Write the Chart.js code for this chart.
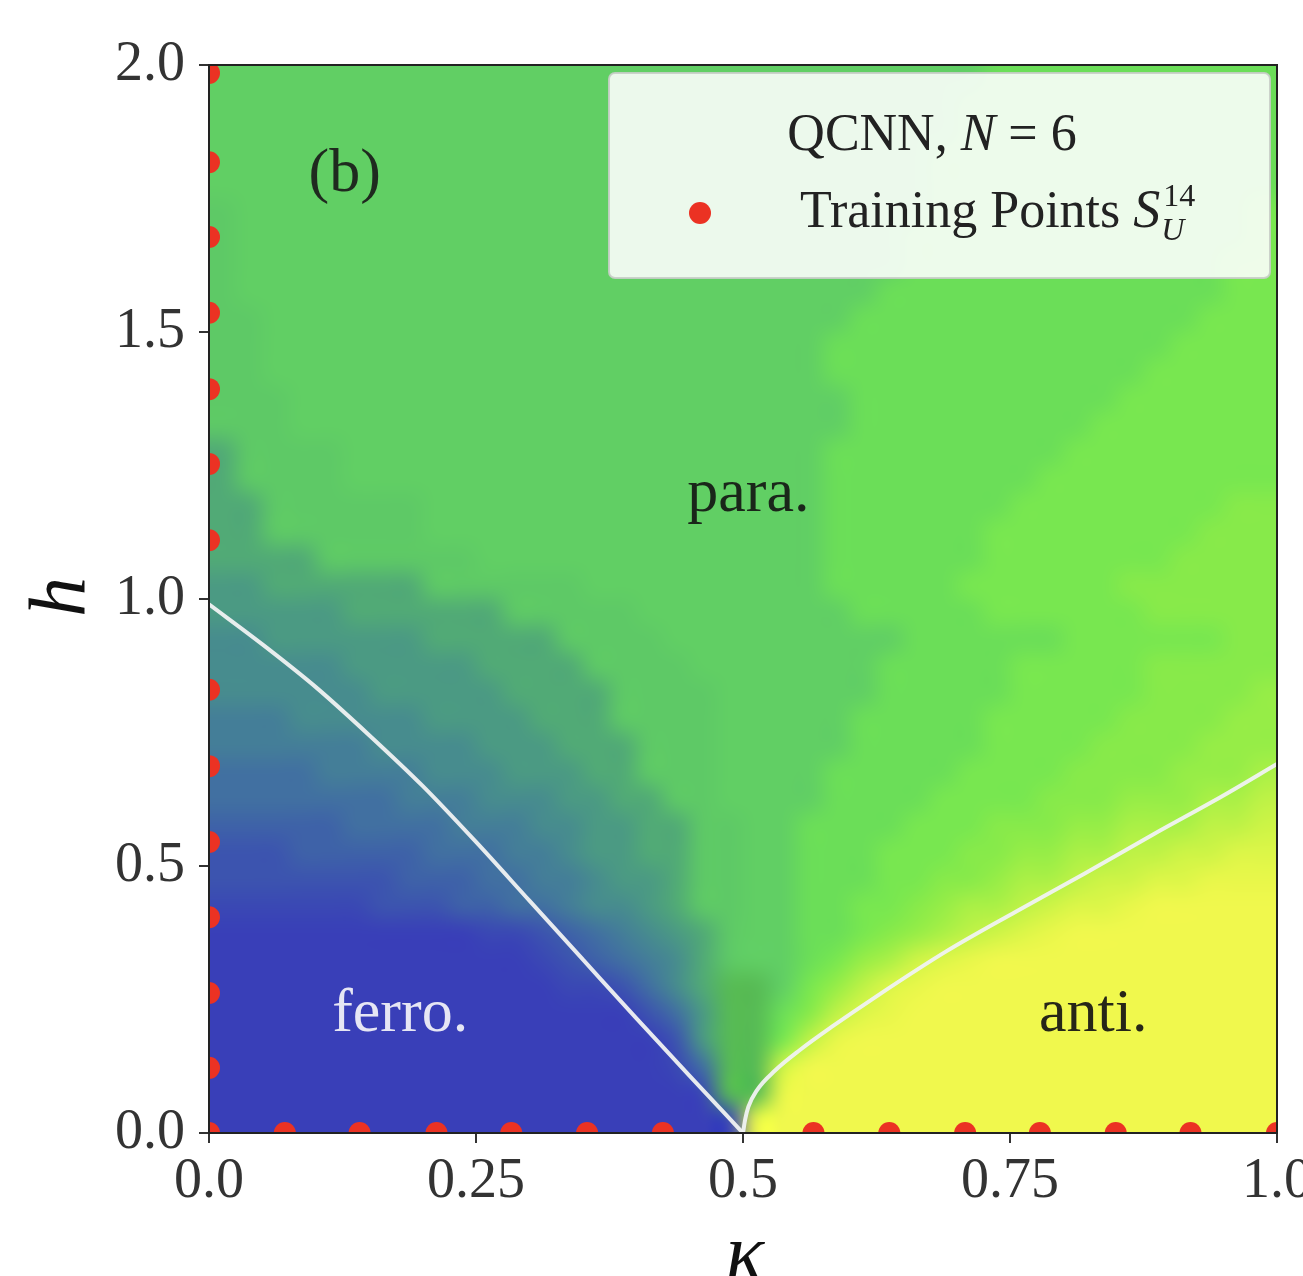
<!DOCTYPE html>
<html>
<head>
<meta charset="utf-8">
<script src="https://cdn.jsdelivr.net/npm/chart.js@4.4.1/dist/chart.umd.min.js"></script>
<style>
  html, body { margin: 0; padding: 0; background: #fff; }
</style>
</head>
<body>
<canvas id="phaseChart" width="1303" height="1276"></canvas>
<script>
// phase map, one string per h row (top row first),
// one char per kappa column: 0..9,a..k = level 0..20
// (0 ferro blue, a para green, k anti yellow), m = dark mixed green near the critical point
const phaseRows = [
  'aaaaaaaaaaaaaaaaaaaaaaaaaaaaabbbbbbbbbbb',
  'aaaaaaaaaaaaaaaaaaaaaaaaaaaabbbbbbbbbbbb',
  'aaaaaaaaaaaaaaaaaaaaaaaaaaaabbbbbbbbbbbb',
  'aaaaaaaaaaaaaaaaaaaaaaaaaaabbbbbbbbbbbbb',
  'aaaaaaaaaaaaaaaaaaaaaaaaaaabbbbbbbbbbbbb',
  '9aaaaaaaaaaaaaaaaaaaaaaaaaabbbbbbbbbbbbc',
  '9aaaaaaaaaaaaaaaaaaaaaaaaabbbbbbbbbbbbbc',
  '9aaaaaaaaaaaaaaaaaaaaaaaaabbbbbbbbbbbbcc',
  '9aaaaaaaaaaaaaaaaaaaaaaaabbbbbbbbbbbbbcc',
  '99aaaaaaaaaaaaaaaaaaaaaabbbbbbbbbbbbbccc',
  '99aaaaaaaaaaaaaaaaaaaaabbbbbbbbbbbbbcccc',
  '99aaaaaaaaaaaaaaaaaaaaabbbbbbbbbbbbccccc',
  '999aaaaaaaaaaaaaaaaaaaaabbbbbbbbbbcccccc',
  '999aaaaaaaaaaaaaaaaaaaaabbbbbbbbbccccccc',
  '89999aaaaaaaaaaaaaaaaaabbbbbbbbbcccccccc',
  '89999aaaaaaaaaaaaaaaaaabbbbbbbbccccccccc',
  '88999999aaaaaaaaaaaaaaabbbbbbbccccccccdd',
  '88999999aaaaaaaaaaaaaaabbbbbbccccccccddd',
  '8888999999aaaaaaaaaaaaabbbbbbcccccccdddd',
  '77888888999999aaaaaaaaabbbbbccccccdddddd',
  '7777788888899999aaaaaaaabbbbbccccccddddd',
  '66777777888889999aaaaaaaaabbbbbbccccccdd',
  '666667777788889999aaaaaaabbbbbcccccddddd',
  '6666667777788889999aaaaaabbbbbcccccdddde',
  '5556666677778889999aaaaabbbbbcccccddddee',
  '5555556666777888999aaaaabbbbbccccddddeee',
  '4444555566677788999aaaabbbbbccccddddeeef',
  '4444444555666778899aaaabbbbccccdddeeeffg',
  '33333444455566778899aabbbbcccdddeefffggh',
  '22233333444556778899aabbbcccddeeffgghhii',
  '22222223334455677899aabbbccddeffghhiijjj',
  '11111122233445667899aabbccdeffghiijkkkkk',
  '00000000001123456789aabbcdefghijkkkkkkkk',
  '00000000000012345689aabcefhijkkkkkkkkkkk',
  '0000000000000112468mmacegijkkkkkkkkkkkkk',
  '0000000000000000247mmbdgijkkkkkkkkkkkkkk',
  '0000000000000000027mmcgjkkkkkkkkkkkkkkkk',
  '0000000000000000014mmhkkkkkkkkkkkkkkkkkk',
  '0000000000000000001mmjkkkkkkkkkkkkkkkkkk',
  '00000000000000000001jkkkkkkkkkkkkkkkkkkk'
];
const kappaRange = [0, 1];
const hRange = [0, 2];

// phase boundaries (white lines)
const ferroLineKappa = [0, 0.05, 0.1, 0.15, 0.2, 0.25, 0.3, 0.35, 0.4, 0.45, 0.5];
const ferroLineH = [0.99, 0.915, 0.835, 0.745, 0.65, 0.545, 0.435, 0.325, 0.215, 0.107, 0];
const antiLineKappa = [0.5, 0.502, 0.505, 0.513, 0.53, 0.553, 0.584, 0.625, 0.691, 0.755, 0.82, 0.884, 0.949, 1.0];
const antiLineH = [0, 0.025, 0.049, 0.08, 0.117, 0.155, 0.2, 0.256, 0.341, 0.414, 0.486, 0.559, 0.631, 0.691];

// training points: along h = 0 and along kappa = 0
const trainKappaOnAxis = [0, 0.071, 0.141, 0.213, 0.283, 0.354, 0.425, 0.566, 0.637, 0.708, 0.778, 0.849, 0.919, 1.0];
const trainHOnAxis = [0.122, 0.262, 0.404, 0.545, 0.687, 0.83, 1.11, 1.253, 1.393, 1.536, 1.678, 1.818, 1.985];

const kappaTicks = [0, 0.25, 0.5, 0.75, 1.0];
const kappaTickLabels = ['0.0', '0.25', '0.5', '0.75', '1.0'];
const hTicks = [0, 0.5, 1.0, 1.5, 2.0];
const hTickLabels = ['0.0', '0.5', '1.0', '1.5', '2.0'];

const regionLabels = [
  { text: '(b)', kappa: 0.127, h: 1.794, color: '#1f2a1f' },
  { text: 'para.', kappa: 0.505, h: 1.195, color: '#1a261a' },
  { text: 'ferro.', kappa: 0.179, h: 0.221, color: '#e6e6f4' },
  { text: 'anti.', kappa: 0.828, h: 0.221, color: '#262618' }
];

const levelColors = [
  '#393fb8', '#3a48b4', '#3c54af', '#3e62a8', '#4170a1', '#447e98', '#478c8e',
  '#4b9a83', '#51aa76', '#5ec966', '#61cf64', '#6bde58', '#78e750', '#87ea4a',
  '#96ed47', '#aaf046', '#bef246', '#cdf446', '#dcf648', '#e8f74a', '#f0f84d'
];
const mixedColor = '#57bb55';
const dotColor = '#eb3223';
const lineColor = 'rgba(240,242,242,0.95)';
const serif = "'Liberation Serif', 'DejaVu Serif', serif";

function cellColor(ch) {
  return ch === 'm' ? mixedColor : levelColors[parseInt(ch, 36)];
}

// grid drawn as an image placed by the scales, smoothed like imshow(interpolation='bilinear')
const heatmapPlugin = {
  id: 'heatmap',
  beforeDatasetsDraw(chart) {
    const { ctx, chartArea, scales: { x, y } } = chart;
    const nRows = phaseRows.length;
    const nCols = Math.max(...phaseRows.map(r => r.length));
    const off = document.createElement('canvas');
    off.width = nCols + 2;
    off.height = nRows + 2;
    const octx = off.getContext('2d');
    for (let r = -1; r <= nRows; r++) {
      const row = phaseRows[Math.min(nRows - 1, Math.max(0, r))];
      for (let c = -1; c <= nCols; c++) {
        const ch = row[Math.min(row.length - 1, Math.max(0, c))];
        octx.fillStyle = cellColor(ch);
        octx.fillRect(c + 1, r + 1, 1, 1);
      }
    }
    const left = x.getPixelForValue(kappaRange[0]);
    const right = x.getPixelForValue(kappaRange[1]);
    const top = y.getPixelForValue(hRange[1]);
    const bottom = y.getPixelForValue(hRange[0]);
    ctx.save();
    ctx.beginPath();
    ctx.rect(chartArea.left, chartArea.top, chartArea.width, chartArea.height);
    ctx.clip();
    ctx.imageSmoothingEnabled = true;
    ctx.imageSmoothingQuality = 'high';
    ctx.drawImage(off, 1, 1, nCols, nRows, left, top, right - left, bottom - top);
    ctx.restore();
  }
};

function drawLegend(ctx, area) {
  const bx = area.right - 668, by = area.top + 8, bw = 661, bh = 205;
  ctx.save();
  ctx.beginPath();
  ctx.roundRect(bx, by, bw, bh, 6);
  ctx.fillStyle = 'rgba(255,255,255,0.88)';
  ctx.fill();
  ctx.lineWidth = 2;
  ctx.strokeStyle = 'rgba(200,205,200,0.9)';
  ctx.stroke();

  ctx.fillStyle = '#222';
  ctx.textBaseline = 'alphabetic';
  ctx.textAlign = 'left';
  const title = [['QCNN, ', ''], ['N', 'italic '], [' = 6', '']];
  let total = 0;
  title.forEach(p => { ctx.font = p[1] + '52px ' + serif; total += ctx.measureText(p[0]).width; });
  let tx = bx + 323 - total / 2;
  title.forEach(p => {
    ctx.font = p[1] + '52px ' + serif;
    ctx.fillText(p[0], tx, by + 77);
    tx += ctx.measureText(p[0]).width;
  });

  ctx.beginPath();
  ctx.arc(bx + 91, by + 140, 11, 0, Math.PI * 2);
  ctx.fillStyle = dotColor;
  ctx.fill();

  ctx.fillStyle = '#222';
  let ex = bx + 191;
  ctx.font = '52px ' + serif;
  ctx.fillText('Training Points ', ex, by + 154);
  ex += ctx.measureText('Training Points ').width;
  ctx.font = 'italic 54px ' + serif;
  ctx.fillText('S', ex, by + 154);
  ex += ctx.measureText('S').width + 3;
  ctx.font = '32px ' + serif;
  ctx.fillText('14', ex, by + 133);
  ctx.font = 'italic 32px ' + serif;
  ctx.fillText('U', ex - 2, by + 167);
  ctx.restore();
}

const overlayPlugin = {
  id: 'overlay',
  afterDatasetsDraw(chart) {
    const { ctx, chartArea, scales: { x, y } } = chart;
    ctx.save();
    ctx.textAlign = 'center';
    ctx.textBaseline = 'middle';
    ctx.font = '62px ' + serif;
    regionLabels.forEach(l => {
      ctx.fillStyle = l.color;
      ctx.fillText(l.text, x.getPixelForValue(l.kappa), y.getPixelForValue(l.h));
    });
    ctx.restore();
    drawLegend(ctx, chartArea);
  },
  afterDraw(chart) {
    const { ctx, chartArea } = chart;
    ctx.save();
    ctx.lineWidth = 2;
    ctx.strokeStyle = '#222';
    ctx.strokeRect(chartArea.left, chartArea.top, chartArea.width, chartArea.height);

    ctx.fillStyle = '#111';
    ctx.font = 'italic 80px ' + serif;
    ctx.textAlign = 'center';
    ctx.textBaseline = 'middle';
    ctx.translate(63, (chartArea.top + chartArea.bottom) / 2 - 2);
    ctx.rotate(-Math.PI / 2);
    ctx.fillText('h', 0, 0);
    ctx.restore();

    ctx.save();
    ctx.fillStyle = '#111';
    ctx.font = 'italic 80px ' + serif;
    ctx.textAlign = 'center';
    ctx.textBaseline = 'alphabetic';
    ctx.fillText('κ', (chartArea.left + chartArea.right) / 2 + 2, 1279);
    ctx.restore();
  }
};

const trainPoints = trainKappaOnAxis.map(k => ({ x: k, y: 0 }))
  .concat(trainHOnAxis.map(h => ({ x: 0, y: h })));

new Chart(document.getElementById('phaseChart'), {
  type: 'scatter',
  data: {
    datasets: [
      {
        label: 'Training Points',
        data: trainPoints,
        pointRadius: 11,
        pointHoverRadius: 11,
        backgroundColor: dotColor,
        borderWidth: 0,
        clip: 0
      },
      {
        type: 'line',
        label: 'ferro boundary',
        data: ferroLineKappa.map((k, i) => ({ x: k, y: ferroLineH[i] })),
        pointRadius: 0,
        borderColor: lineColor,
        borderWidth: 4,
        fill: false,
        cubicInterpolationMode: 'monotone',
        clip: 0
      },
      {
        type: 'line',
        label: 'anti boundary',
        data: antiLineKappa.map((k, i) => ({ x: k, y: antiLineH[i] })),
        pointRadius: 0,
        borderColor: lineColor,
        borderWidth: 4,
        fill: false,
        cubicInterpolationMode: 'monotone',
        clip: 0
      }
    ]
  },
  options: {
    responsive: false,
    animation: false,
    events: [],
    layout: { padding: { top: 65, right: 26, left: 0, bottom: 0 } },
    plugins: { legend: { display: false }, tooltip: { enabled: false } },
    scales: {
      x: {
        type: 'linear',
        min: kappaRange[0],
        max: kappaRange[1],
        afterBuildTicks: s => { s.ticks = kappaTicks.map(v => ({ value: v })); },
        afterFit: s => { s.height = 143; s.paddingLeft = 0; s.paddingRight = 0; },
        ticks: {
          callback: (v, i) => kappaTickLabels[i],
          font: { family: serif, size: 56 },
          color: '#333',
          padding: 6,
          maxRotation: 0,
          autoSkip: false
        },
        grid: { drawOnChartArea: false, drawTicks: true, tickLength: 10, color: '#333', lineWidth: 2 },
        border: { display: false }
      },
      y: {
        type: 'linear',
        min: hRange[0],
        max: hRange[1],
        afterBuildTicks: s => { s.ticks = hTicks.map(v => ({ value: v })); },
        afterFit: s => { s.width = 209; s.paddingTop = 0; s.paddingBottom = 0; },
        ticks: {
          callback: (v, i) => hTickLabels[i],
          font: { family: serif, size: 56 },
          color: '#333',
          padding: 14,
          autoSkip: false
        },
        grid: { drawOnChartArea: false, drawTicks: true, tickLength: 10, color: '#333', lineWidth: 2 },
        border: { display: false }
      }
    }
  },
  plugins: [heatmapPlugin, overlayPlugin]
});
</script>
</body>
</html>
